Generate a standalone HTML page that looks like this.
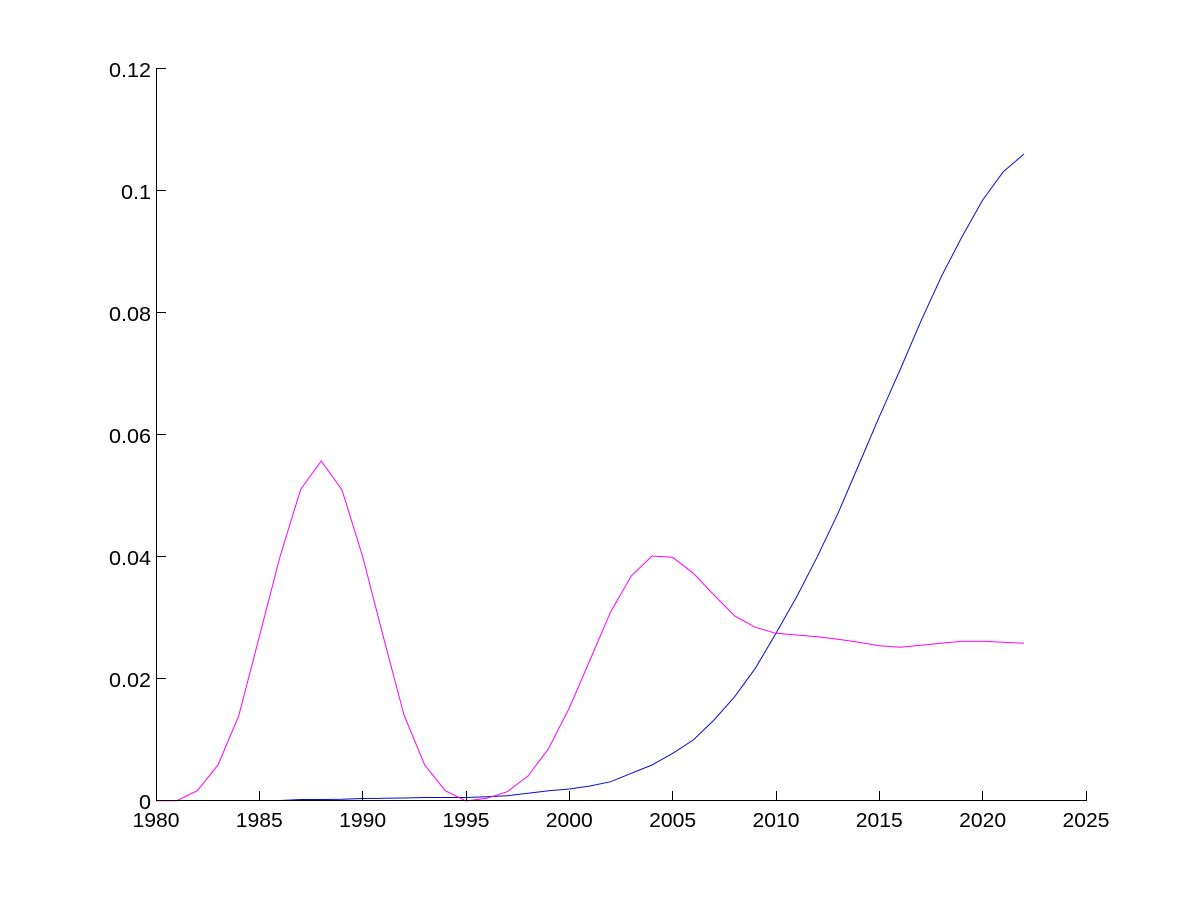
<!DOCTYPE html>
<html>
<head>
<meta charset="utf-8">
<style>
html,body{margin:0;padding:0;background:#fff;}
svg{display:block;}
text{font-family:"Liberation Sans",Arial,sans-serif;font-size:20px;fill:#000;}
</style>
</head>
<body>
<svg width="1200" height="900" viewBox="0 0 1200 900" xmlns="http://www.w3.org/2000/svg">
<rect width="1200" height="900" fill="#fff"/>
<!-- series -->
<polyline fill="none" stroke="#0a0ad8" stroke-width="1" points="156,800.5 176.7,800.5 197.3,800.5 218,800.5 238.7,800.5 259.3,800.5 280,800.5 300.7,799.5 321.3,799.5 342,799.3 362.7,798.5 383.3,798.3 404,798 424.7,797.5 445.3,797.5 466,797.5 486.7,796.7 507.3,795.7 528,793.3 548.7,790.7 569.3,789 590,786 610.7,781.7 631.3,773.3 652,765 672.7,753.3 693.3,740 714,720 734.7,696.7 755.3,668.3 776,633.3 796.7,596.7 817.3,556.7 838,513.3 858.7,465 879.3,416.7 900,370 920.7,321.7 941.3,276.7 962,236.7 982.7,200 1003.3,171.7 1024,154"/>
<polyline fill="none" stroke="#ff00ff" stroke-width="1" points="156,800.7 176.7,800.7 197.3,790.7 218,765 238.7,716 259.3,636.7 280,556.7 300.7,489.3 321.3,461 342,490 362.7,556.7 383.3,636.7 404,715 424.7,765 445.3,790.7 466,801 486.7,798.3 507.3,791.7 528,776 548.7,748.3 569.3,708 590,660 610.7,611.7 631.3,576 652,556 672.7,557.3 693.3,573.3 714,595 734.7,616 755.3,627.3 776,633.3 796.7,635 817.3,636.7 838,639.3 858.7,642.3 879.3,645.7 900,647.3 920.7,645.3 941.3,643.3 962,641.3 982.7,641.3 1003.3,642.3 1024,643.3"/>
<!-- axes -->
<g stroke="#000" stroke-width="1" fill="none">
<line x1="156.5" y1="68" x2="156.5" y2="801"/>
<line x1="156" y1="800.5" x2="1087" y2="800.5"/>
<!-- y ticks -->
<line x1="156" y1="68.5" x2="166" y2="68.5"/>
<line x1="156" y1="190.5" x2="166" y2="190.5"/>
<line x1="156" y1="312.5" x2="166" y2="312.5"/>
<line x1="156" y1="434.5" x2="166" y2="434.5"/>
<line x1="156" y1="556.5" x2="166" y2="556.5"/>
<line x1="156" y1="678.5" x2="166" y2="678.5"/>
<!-- x ticks -->
<line x1="259.5" y1="791" x2="259.5" y2="800"/>
<line x1="362.5" y1="791" x2="362.5" y2="800"/>
<line x1="466.5" y1="791" x2="466.5" y2="800"/>
<line x1="569.5" y1="791" x2="569.5" y2="800"/>
<line x1="672.5" y1="791" x2="672.5" y2="800"/>
<line x1="776.5" y1="791" x2="776.5" y2="800"/>
<line x1="879.5" y1="791" x2="879.5" y2="800"/>
<line x1="982.5" y1="791" x2="982.5" y2="800"/>
<line x1="1086.5" y1="791" x2="1086.5" y2="800"/>
</g>
<!-- y labels -->
<g text-anchor="end">
<text x="151" y="77" textLength="42" lengthAdjust="spacingAndGlyphs">0.12</text>
<text x="151" y="199" textLength="30" lengthAdjust="spacingAndGlyphs">0.1</text>
<text x="151" y="321" textLength="42" lengthAdjust="spacingAndGlyphs">0.08</text>
<text x="151" y="443" textLength="42" lengthAdjust="spacingAndGlyphs">0.06</text>
<text x="151" y="565" textLength="42" lengthAdjust="spacingAndGlyphs">0.04</text>
<text x="151" y="687" textLength="42" lengthAdjust="spacingAndGlyphs">0.02</text>
<text x="151" y="809" textLength="12" lengthAdjust="spacingAndGlyphs">0</text>
</g>
<!-- x labels -->
<g>
<text x="132.5" y="827" textLength="47" lengthAdjust="spacingAndGlyphs">1980</text>
<text x="235.8" y="827" textLength="47" lengthAdjust="spacingAndGlyphs">1985</text>
<text x="339.2" y="827" textLength="47" lengthAdjust="spacingAndGlyphs">1990</text>
<text x="442.5" y="827" textLength="47" lengthAdjust="spacingAndGlyphs">1995</text>
<text x="545.8" y="827" textLength="47" lengthAdjust="spacingAndGlyphs">2000</text>
<text x="649.2" y="827" textLength="47" lengthAdjust="spacingAndGlyphs">2005</text>
<text x="752.5" y="827" textLength="47" lengthAdjust="spacingAndGlyphs">2010</text>
<text x="855.8" y="827" textLength="47" lengthAdjust="spacingAndGlyphs">2015</text>
<text x="959.2" y="827" textLength="47" lengthAdjust="spacingAndGlyphs">2020</text>
<text x="1062.5" y="827" textLength="47" lengthAdjust="spacingAndGlyphs">2025</text>
</g>
</svg>
</body>
</html>
